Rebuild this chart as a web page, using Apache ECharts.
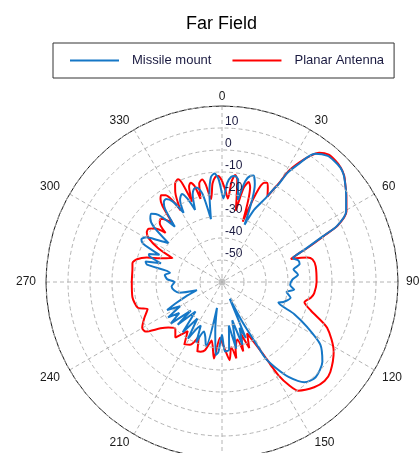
<!DOCTYPE html>
<html>
<head>
<meta charset="utf-8">
<script src="https://cdn.jsdelivr.net/npm/echarts@6/dist/echarts.min.js"></script>
<style>
  html, body { margin: 0; padding: 0; background: #fff; }
  #chart { width: 420px; height: 453px; }
</style>
</head>
<body>
<div id="chart"></div>
<script>
// Far-field gain patterns (dB) versus azimuth angle (degrees, clockwise from 0 at top)
const missileAngle = [0, 1, 3, 5, 7, 9, 11, 13, 15, 16.5, 18.5, 21.5, 24, 27.5, 29, 30, 31, 33, 34.5, 36, 40, 43, 46, 48.5, 52, 55, 60.5, 64, 65.5, 68, 70.5,
  71.5, 74, 77, 80, 84.5, 88, 92.6, 96, 98.7, 103, 108, 110, 114, 118, 122.5, 128.5, 135.5, 140.6, 145, 148, 150.3, 151, 153, 155,
  157, 159, 162, 165, 168, 171, 174, 177.6, 180, 183, 185, 188, 191, 194, 197, 200, 203, 206, 208, 211, 214, 218, 222, 226, 227.5,
  231, 234, 236.7, 240, 243, 245, 248, 252, 256, 260, 265, 270, 273, 277, 280, 283, 285, 287, 289.5, 291, 293.5, 296, 298, 300.5,
  303, 306, 309, 311.5, 314, 316.5, 319.5, 322, 324, 326, 328.5, 331, 333, 335.5, 337.5, 339.5, 341.5, 343, 345, 347.5, 350, 352,
  354, 356, 358, 360];
const missileGain = [-20, -22, -15, -12, -11.5, -13, -22, -13, -10, -9.5, -13, -32, -24, -17, -12, -9, -2, 4, 9, 12, 14.8, 15, 14.8, 13.8, 11.2, 8.9, 4.8, -1.8, -9, -18, -25,
  -26, -24, -23.8, -27, -25.3, -28, -29, -27, -30.3, -28, -30.6, -32.7, -24, -16, -7, -1.7, 0.7, -1, -7.3, -14, -20, -27.3, -40, -51.6,
  -32.3, -37.7, -30, -42, -29, -40, -29, -28.4, -36, -28, -26.7, -38, -48, -30, -34, -36, -30, -38, -36.4, -30, -40, -31, -42, -32, -40.8,
  -30, -36, -30.7, -38, -32, -36.3, -42, -48, -40, -38, -37, -38.4, -35, -33.8, -36, -25, -24, -31, -25, -24.4, -29, -20, -18.5, -20,
  -25, -30, -20, -16.5, -15.4, -18, -27, -18, -15, -14.5, -17, -24, -18, -16, -19, -25, -18, -16, -15.5, -19, -31, -19,
  -12, -10.6, -13, -20];

const planarAngle = [0, 2, 4, 5.5, 7, 8.5, 11, 13, 15, 16.5, 19, 21, 23, 24.5, 26, 28, 29.5, 30, 31, 33, 35, 37, 40, 43, 46, 49, 52, 55, 60.5, 64, 65.5,
  68, 70.5, 71.5, 74, 76, 80.5, 90, 97, 100, 103.8, 107.8, 113.5, 121.9, 129.7, 134, 138.8, 145, 147, 148.8, 150, 151.6, 154, 157.6,
  160, 163, 165, 168.5, 169.4, 172, 174.4, 178, 182, 186, 190, 194, 197, 199.5, 203, 207, 211, 215, 220, 225, 229.7, 233, 237, 240.2,
  245, 250, 253, 260.5, 270, 277.8, 282, 285, 288, 291, 295.6, 298, 301, 303.5, 306, 308.5, 311, 313.5, 316, 318, 320, 322, 323.5,
  325, 327, 330, 332.5, 334.5, 336.8, 338, 339.5, 341, 342.5, 344, 345.5, 347, 349, 350.5, 352.5, 354.5, 356.5, 358, 360];
const planarGain = [-14, -18, -22, -14, -11, -13, -27, -16, -13, -15, -31, -17, -11, -10.5, -12.5, -16, -10, -8, -1, 5, 10, 13.5, 15.5, 15.5, 15, 13.6,
  11.2, 9, 5, -1.5, -8.5, -17.5, -25, -27, -19.6, -17.6, -16.8, -17, -17.8, -19, -21.4, -17.6, -7.9, -0.2, 4, 4.8, 3.6, 0.3, -4, -10.4,
  -20, -27.6, -34, -27.5, -35, -27, -33, -29, -24.7, -30, -24.3, -30, -34.6, -25, -33, -28, -26.9, -26.5, -33, -28, -26.8, -32.8, -27,
  -30, -28, -25, -18.6, -18.2, -21, -24, -20, -18.7, -19, -18.9, -18.4, -20, -24, -30, -35, -27, -21, -19, -18.8, -21, -26, -21,
  -20, -22, -25, -16, -13, -11.8, -13, -22.4, -14, -10.5, -9.2, -11.5, -21, -14, -12.7, -14.5, -21, -14, -12.5, -15, -22, -15,
  -12, -11.8, -14];

// Radial tick values that carry a label
const radialLabels = [10, 0, -10, -20, -30, -40, -50];

function toPolar(angles, gains) {
  return angles.map((a, i) => [gains[i], a]);
}

// Angle labels on the left/right flanks sit a little further out
function angleLabel(v) {
  if (v === 360) return '';
  if (v === 90 || v === 60 || v === 120) return '{r|' + v + '}';
  if (v === 270 || v === 240 || v === 300) return '{l|' + v + '}';
  if (v === 30 || v === 150) return '{rs|' + v + '}';
  if (v === 210 || v === 330) return '{ls|' + v + '}';
  return String(v);
}

const chart = echarts.init(document.getElementById('chart'), null, { renderer: 'canvas' });
const font = 'Arial, "Liberation Sans", sans-serif';
const labelText = { fontFamily: font, fontSize: 12, color: '#1a1a1a' };

chart.setOption({
  animation: false,
  backgroundColor: '#fff',
  title: {
    text: 'Far Field',
    left: 181,
    top: 10,
    textStyle: { fontFamily: font, fontSize: 18, fontWeight: 'normal', color: '#000' }
  },
  legend: {
    top: 43,
    left: 53,
    width: 337,
    padding: [11, 10, 11, 17],
    itemGap: 21,
    itemWidth: 49,
    itemHeight: 2,
    icon: 'rect',
    borderColor: '#333',
    borderWidth: 1,
    textStyle: { fontFamily: font, fontSize: 13, color: '#1a1a40', padding: [0, 0, 0, 8] },
    data: ['Missile mount', 'Planar Antenna']
  },
  polar: {
    center: [222, 282],
    radius: 176
  },
  angleAxis: {
    type: 'value',
    min: 0,
    max: 360,
    interval: 30,
    startAngle: 90,
    clockwise: true,
    axisLine: { show: true, lineStyle: { color: '#111', width: 1 } },
    axisTick: { show: false },
    axisLabel: Object.assign({
      margin: 3,
      formatter: angleLabel,
      rich: {
        r: Object.assign({ padding: [0, 0, 0, 5] }, labelText),
        l: Object.assign({ padding: [0, 7, 0, 0] }, labelText),
        rs: Object.assign({ padding: [0, 0, 0, 3] }, labelText),
        ls: Object.assign({ padding: [0, 3, 0, 0] }, labelText)
      }
    }, labelText),
    splitLine: { show: true, lineStyle: { color: '#b4b4b4', type: [4, 3], width: 1 } }
  },
  radiusAxis: {
    type: 'value',
    min: -60,
    max: 20,
    interval: 10,
    axisLine: { show: false },
    axisTick: { show: false },
    axisLabel: {
      margin: -3,
      fontFamily: font,
      fontSize: 12,
      color: '#1a1a40',
      align: 'left',
      verticalAlign: 'bottom',
      formatter: v => (radialLabels.indexOf(v) >= 0 ? String(v) : '')
    },
    splitLine: { show: true, lineStyle: { color: '#b4b4b4', type: [4, 3], width: 1 } },
    z: 5
  },
  series: [
    {
      name: 'Missile mount',
      type: 'line',
      coordinateSystem: 'polar',
      symbol: 'none',
      smooth: 0.25,
      lineStyle: { color: '#1577c6', width: 2 },
      itemStyle: { color: '#1577c6' },
      data: toPolar(missileAngle, missileGain),
      z: 3
    },
    {
      name: 'Planar Antenna',
      type: 'line',
      coordinateSystem: 'polar',
      symbol: 'none',
      smooth: 0.25,
      lineStyle: { color: '#ff0000', width: 2 },
      itemStyle: { color: '#ff0000' },
      data: toPolar(planarAngle, planarGain),
      z: 2
    },
    {
      // pole marker at the origin of the radial scale
      name: 'pole',
      type: 'scatter',
      coordinateSystem: 'polar',
      symbol: 'circle',
      symbolSize: 7,
      silent: true,
      itemStyle: { color: '#b0b0b0' },
      data: [[-60, 0]],
      z: 1
    }
  ]
});
</script>
</body>
</html>
